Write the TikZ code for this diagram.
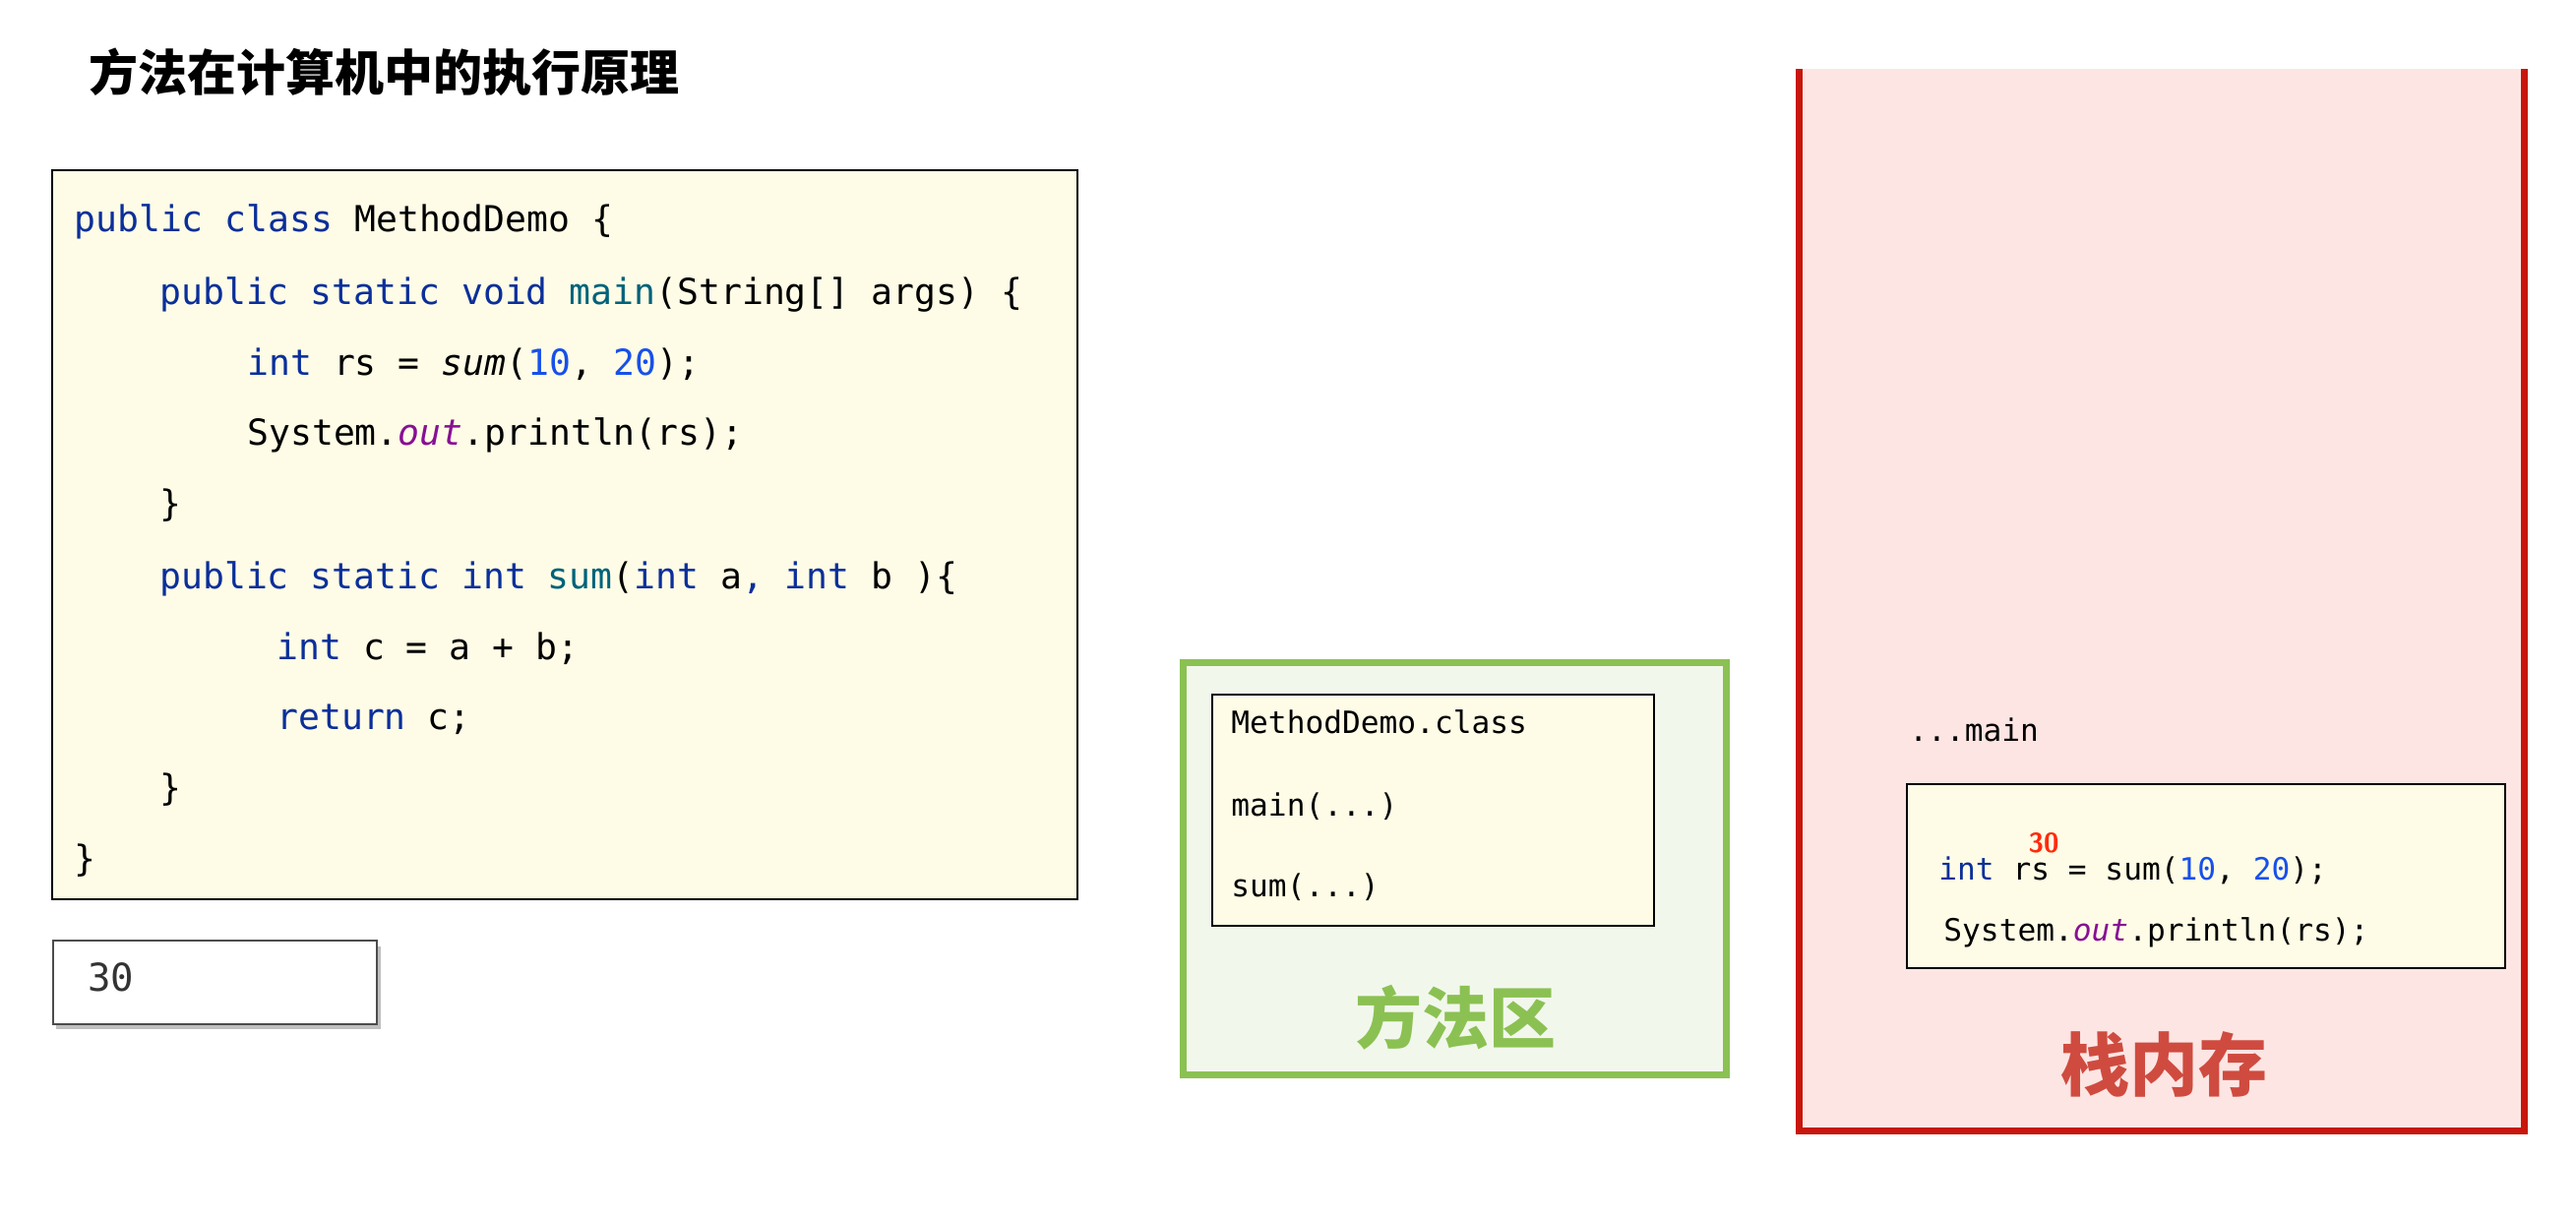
\documentclass[tikz,border=0pt]{standalone}
\usepackage{fontspec}
\setmonofont{DejaVu Sans Mono}
\newfontfamily\cjk{Noto Sans CJK SC}
\definecolor{kwblue}{HTML}{0B2F9A}
\definecolor{fnteal}{HTML}{00627A}
\definecolor{numblue}{HTML}{1750EB}
\definecolor{fldpurple}{HTML}{871094}
\definecolor{codefill}{HTML}{FEFCE6}
\definecolor{mgreen}{HTML}{8BC152}
\definecolor{mgreenfill}{HTML}{F2F7EC}
\definecolor{sred}{HTML}{C8160C}
\definecolor{spink}{HTML}{FDE5E3}
\definecolor{stxt}{HTML}{CF4B3F}
\definecolor{rednum}{HTML}{FF2A0A}
\newcommand\kw[1]{\textcolor{kwblue}{#1}}
\newcommand\fnm[1]{\textcolor{fnteal}{#1}}
\newcommand\jnum[1]{\textcolor{numblue}{#1}}
\newcommand\fld[1]{\textcolor{fldpurple}{\itshape #1}}
\begin{document}
\begin{tikzpicture}[x=0.5pt,y=-0.5pt,
  codeline/.style={anchor=base west,inner sep=0pt,font=\ttfamily\fontsize{18.2}{20}\selectfont},
  smallcode/.style={anchor=base west,inner sep=0pt,font=\ttfamily\fontsize{15.6}{18}\selectfont},
  codebox/.style={draw=black,line width=1pt,fill=codefill}]
\useasboundingbox (0,0) rectangle (2618,1238);
\fill[white] (0,0) rectangle (2618,1238);

% title
\node[anchor=west,inner sep=0pt,font=\cjk\bfseries\fontsize{25}{28}\selectfont] (title) at (90,73) {方法在计算机中的执行原理};

% code box
\node[codebox,minimum width=521pt,minimum height=370.5pt,anchor=north west,inner sep=0pt] (code) at (52,172) {};
\node[codeline] (l1) at (75,235) {\kw{public} \kw{class} MethodDemo \{};
\node[codeline] (l2) at (162,309) {\kw{public} \kw{static} \kw{void} \fnm{main}(String[] args) \{};
\node[codeline] (l3) at (251,381) {\kw{int} rs = {\itshape sum}(\jnum{10}, \jnum{20});};
\node[codeline] (l4) at (251,452) {System.\fld{out}.println(rs);};
\node[codeline] (l5) at (162,524) {\}};
\node[codeline] (l6) at (162,598) {\kw{public} \kw{static} \kw{int} \fnm{sum}(\kw{int} a\kw{,} \kw{int} b )\{};
\node[codeline] (l7) at (281,670) {\kw{int} c = a + b;};
\node[codeline] (l8) at (281,741) {\kw{return} c;};
\node[codeline] (l9) at (162,813) {\}};
\node[codeline] (l10) at (75,885) {\}};

% output box
\fill[black!25] (57,962) rectangle (387,1046);
\node[draw=black!70,line width=1pt,fill=white,minimum width=164.5pt,minimum height=42.5pt,anchor=north west,inner sep=0pt] (out) at (53,955) {};
\node[anchor=west,inner sep=0pt,text=black!80,font=\ttfamily\fontsize{19.5}{22}\selectfont] (outtxt) at (89,993) {30};

% method area
\node[draw=mgreen,line width=3.5pt,fill=mgreenfill,minimum width=276pt,minimum height=209.5pt,anchor=north west,inner sep=0pt] (marea) at (1199,670) {};
\node[codebox,minimum width=224.5pt,minimum height=117.5pt,anchor=north west,inner sep=0pt] (mclass) at (1231,705) {};
\node[smallcode] (mc1) at (1251,745) {MethodDemo.class};
\node[smallcode] (mc2) at (1251,829) {main(...)};
\node[smallcode] (mc3) at (1251,911) {sum(...)};
\node[inner sep=0pt,text=mgreen,font=\cjk\bfseries\fontsize{34}{38}\selectfont] (mlabel) at (1479,1034) {方法区};

% stack
\fill[spink] (1828,70) rectangle (2565,1149);
\draw[sred,line width=3.5pt] (1828,70) -- (1828,1149) -- (2565,1149) -- (2565,70);
\node[smallcode] (dm) at (1940,753) {...main};
\node[codebox,minimum width=304pt,minimum height=93.5pt,anchor=north west,inner sep=0pt] (frame) at (1937,796) {};
\node[inner sep=0pt,text=rednum,font=\sffamily\bfseries\fontsize{14}{16}\selectfont] (thirty) at (2077,857) {30};
\node[smallcode] (f1) at (1970,894) {\kw{int} rs = sum(\jnum{10}, \jnum{20});};
\node[smallcode] (f2) at (1975,956) {System.\fld{out}.println(rs);};
\node[inner sep=0pt,text=stxt,font=\cjk\bfseries\fontsize{35}{38}\selectfont] (slabel) at (2199,1082) {栈内存};
\end{tikzpicture}
\end{document}
